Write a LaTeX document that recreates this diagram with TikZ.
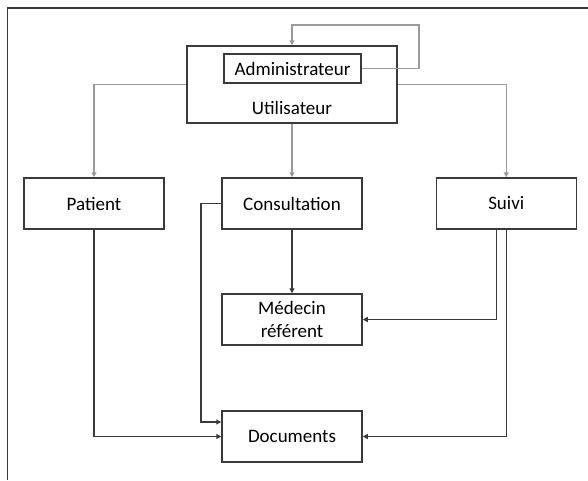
\documentclass[tikz,border=0pt]{standalone}
\usepackage{fontspec}
\setmainfont{Carlito}
\usetikzlibrary{arrows.meta}
\definecolor{boxline}{HTML}{3A3A3A}
\definecolor{greyline}{HTML}{9A9A9A}
\tikzset{
  box/.style={draw=boxline, line width=1.5pt, rectangle, inner sep=0pt, font=\fontsize{19}{23.5}\selectfont, align=center},
  greyconn/.style={draw=greyline, line width=1.4pt, -{Triangle[length=5pt,width=5pt]}},
  blackconn/.style={draw=boxline, line width=1.3pt, -{Triangle[length=5pt,width=5pt]}},
  plain/.style={inner sep=0pt, font=\fontsize{19}{23.5}\selectfont}
}
\begin{document}
\begin{tikzpicture}[x=1pt,y=-1pt]
\useasboundingbox (0,0) rectangle (588,480);
\draw[boxline, line width=1.5pt] (588,8) -- (7.5,8) -- (7.5,480);
% boxes
\node[box, minimum width=210pt, minimum height=77pt] (user) at (292,84.5) {};
\node[plain] (usertxt) at (292,108) {Utilisateur};
\node[box, minimum width=137pt, minimum height=29pt] (admin) at (292.5,68.5) {Administrateur};
\node[box, minimum width=140pt, minimum height=51pt] (patient) at (94,203.5) {Patient};
\node[box, minimum width=140pt, minimum height=51pt] (consult) at (292,203.5) {Consultation};
\node[box, minimum width=140pt, minimum height=51pt] (suivi) at (506.25,203.5) {Suivi};
\node[box, minimum width=140pt, minimum height=51pt] (medecin) at (292,319.5) {Médecin\\référent};
\node[box, minimum width=140pt, minimum height=51pt] (docs) at (292,436.5) {Documents};
% grey connectors
\coordinate (loopR) at (419,25);
\draw[greyconn] (admin.east) -| (loopR) -| (user.north);
\draw[greyconn] (user.west) -| (patient.north);
\draw[greyconn] (user.east) -| (suivi.north);
\draw[greyconn] (user.south) -- (consult.north);
% black connectors
\draw[blackconn] (consult.south) -- (medecin.north);
\coordinate (cleft) at (201,203.5);
\draw[blackconn] (consult.west) -- (cleft) |- ([yshift=14.5pt]docs.west);
\draw[blackconn] (patient.south) |- (docs.west);
\draw[blackconn] ([xshift=-10pt]suivi.south) |- (medecin.east);
\draw[blackconn] (suivi.south) |- (docs.east);
\end{tikzpicture}
\end{document}
